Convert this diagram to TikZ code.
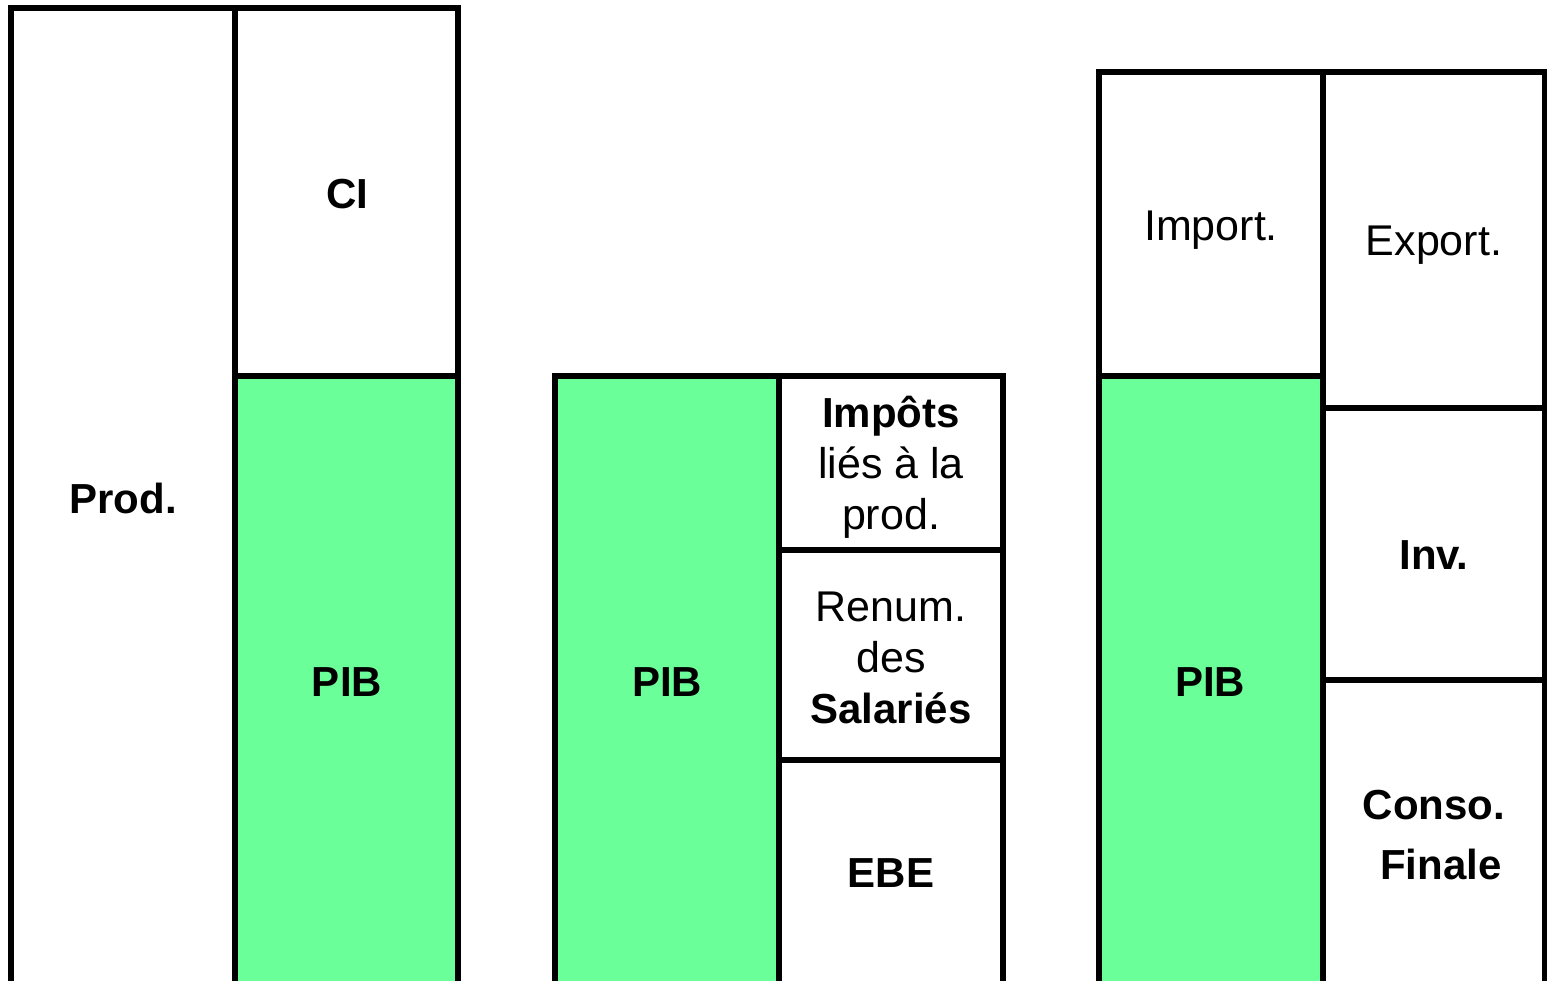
\documentclass[tikz,border=0pt]{standalone}
\usepackage{fontspec}
\setmainfont{Liberation Sans}
\definecolor{pibgreen}{RGB}{107,255,154}
\newcommand{\bfword}[1]{{\fontsize{42}{51}\selectfont\bfseries #1}}
\tikzset{
  cell/.style={draw=black, line width=6pt, fill=white},
  pibcell/.style={cell, fill=pibgreen},
  lbl/.style={align=center, font=\fontsize{43}{51}\selectfont, inner sep=0pt},
}
\begin{document}
\begin{tikzpicture}[x=1pt,y=-1pt]
\useasboundingbox (0,0) rectangle (1547,981);
\clip (0,0) rectangle (1547,981);

% Production side
\draw[cell]    (11,8)    rectangle (235,1000);
\draw[cell]    (235,8)   rectangle (458,376);
\draw[pibcell] (235,376) rectangle (458,1000);
\node[lbl] (prod) at (123,498) {\bfword{Prod.}};
\node[lbl] (ci)   at (347,194) {\bfword{CI}};
\node[lbl] (pib1) at (347,682) {\bfword{PIB}};

% Income side
\draw[pibcell] (555,376) rectangle (779,1000);
\draw[cell]    (779,376) rectangle (1003,550);
\draw[cell]    (779,550) rectangle (1003,760);
\draw[cell]    (779,760) rectangle (1003,1000);
\node[lbl] (pib2)  at (667,682) {\bfword{PIB}};
\node[lbl] (impot) at (891,467) {\bfword{Impôts}\\liés à la\\prod.};
\node[lbl] (renum) at (891,658) {Renum.\\des\\\bfword{Salariés}};
\node[lbl] (ebe)   at (891,873) {\bfword{EBE}};

% Expenditure side
\draw[cell]    (1099,72)  rectangle (1323,376);
\draw[pibcell] (1099,376) rectangle (1323,1000);
\draw[cell]    (1323,72)  rectangle (1545,408);
\draw[cell]    (1323,408) rectangle (1545,680);
\draw[cell]    (1323,680) rectangle (1545,1000);
\node[lbl] (import) at (1211,230) {Import.};
\node[lbl] (pib3)   at (1210,682) {\bfword{PIB}};
\node[lbl] (export) at (1434,245) {Export.};
\node[lbl] (inv)    at (1434,555) {\bfword{Inv.}};
\node[lbl, font=\fontsize{43}{60}\selectfont] (conso) at (1434,835)
  {\bfword{Conso.}\\\hspace*{14pt}\bfword{Finale}};
\end{tikzpicture}
\end{document}
